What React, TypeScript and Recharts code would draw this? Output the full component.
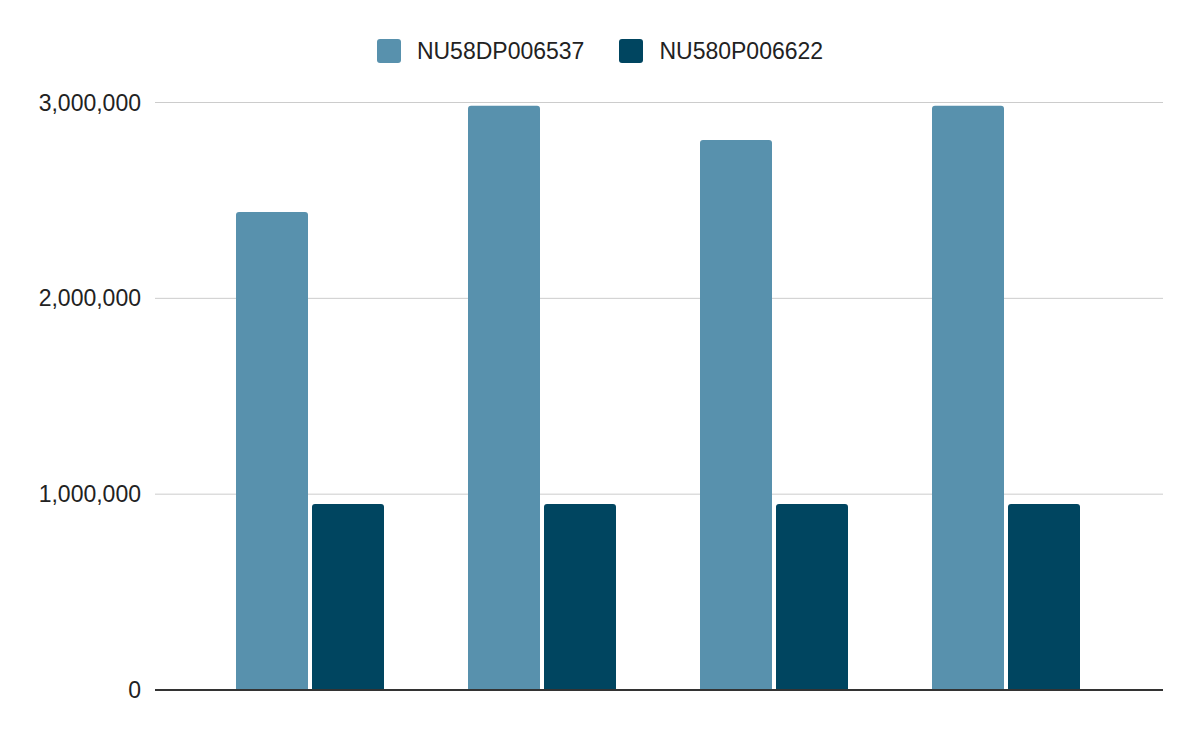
import React from "react";
import { BarChart, Bar, XAxis, YAxis, CartesianGrid, Legend } from "recharts";

const categories = ["1", "2", "3", "4"];
const seriesA = [2441000, 2984000, 2809000, 2984000];
const seriesB = [950000, 950000, 950000, 950000];
const yTicks = [0, 1000000, 2000000, 3000000];
const seriesNames = ["NU58DP006537", "NU580P006622"];
const colors = ["#5891AD", "#004560"];

const data = categories.map((c, i) => ({ name: c, a: seriesA[i], b: seriesB[i] }));

const FONT = "Arial, 'Liberation Sans', sans-serif";

const LegendContent = (props: any) => {
  const payload = [...(props.payload || [])].sort(
    (p: any, q: any) => seriesNames.indexOf(p.value) - seriesNames.indexOf(q.value)
  );
  return (
    <div style={{ height: 64, display: "flex", justifyContent: "center", alignItems: "flex-start", fontFamily: FONT }}>
      {payload.map((p: any, i: number) => (
        <div key={i} style={{ display: "flex", alignItems: "center", marginRight: i < payload.length - 1 ? 35 : 0 }}>
          <div style={{ width: 24, height: 24, borderRadius: 3, background: p.color, marginRight: 16 }} />
          <span style={{ fontSize: 23, color: "#222", lineHeight: "24px" }}>{p.value}</span>
        </div>
      ))}
    </div>
  );
};

export default function App() {
  return (
    <div style={{ position: "absolute", left: 0, top: 0, background: "#fff" }}>
      <BarChart
        width={1200}
        height={742}
        data={data}
        margin={{ top: 38.5, right: 37, bottom: 50, left: 0 }}
        barCategoryGap={42}
        barGap={4}
      >
        <CartesianGrid vertical={false} stroke="#cccccc" strokeWidth={1} />
        <XAxis
          dataKey="name"
          tick={false}
          tickLine={false}
          height={2}
          padding={{ left: 39, right: 41 }}
          axisLine={{ stroke: "#333333", strokeWidth: 2 }}
        />
        <YAxis
          width={155}
          domain={[0, 3000000]}
          ticks={yTicks}
          axisLine={false}
          tickLine={false}
          tickMargin={8}
          tickFormatter={(v: number) => v.toLocaleString("en-US")}
          tick={{ fill: "#222222", fontSize: 23, fontFamily: FONT }}
        />
        <Legend
          verticalAlign="top"
          content={<LegendContent />}
          wrapperStyle={{ left: 0, width: 1200 }}
        />
        <Bar dataKey="a" name={seriesNames[0]} fill={colors[0]} radius={[3, 3, 0, 0]} isAnimationActive={false} />
        <Bar dataKey="b" name={seriesNames[1]} fill={colors[1]} radius={[3, 3, 0, 0]} isAnimationActive={false} />
      </BarChart>
    </div>
  );
}
